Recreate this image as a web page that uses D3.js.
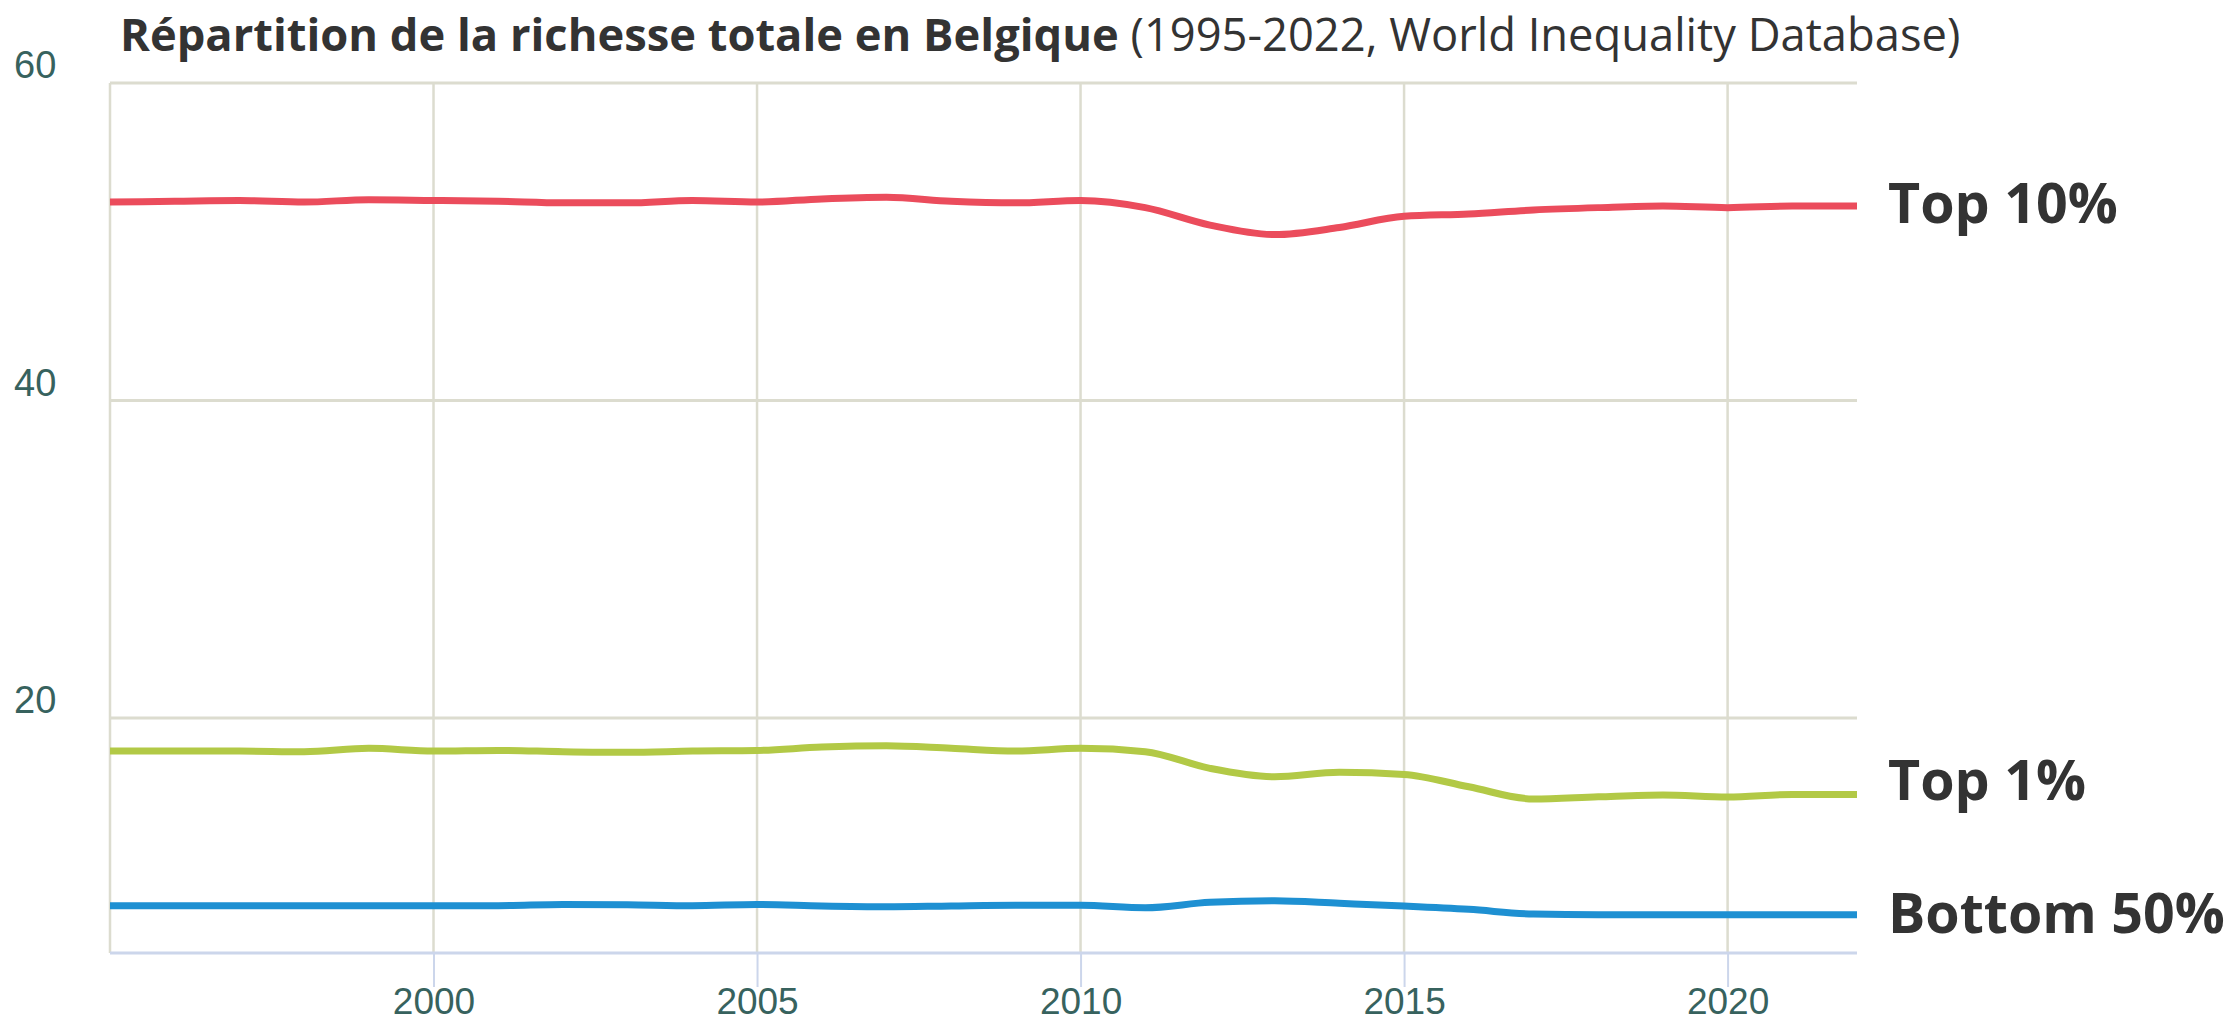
<!DOCTYPE html>
<html>
<head>
<meta charset="utf-8">
<script src="https://cdn.jsdelivr.net/npm/d3@7"></script>
<style>
  body { margin: 0; background: #fff; }
  svg { display: block; }
</style>
</head>
<body>
<div id="chart"></div>
<script>
// data (share of total wealth, %)
const years = d3.range(1995, 2023);
const top10 = [52.5, 52.55, 52.6, 52.5, 52.65, 52.6, 52.55, 52.45, 52.45, 52.6, 52.5, 52.7, 52.8, 52.55,
  52.45, 52.6, 52.15, 51.05, 50.45, 50.9, 51.6, 51.75, 52.0, 52.15, 52.25, 52.15, 52.25, 52.25];
const top1 = [17.92, 17.92, 17.92, 17.88, 18.09, 17.92, 17.96, 17.88, 17.84, 17.92, 17.96, 18.17, 18.25, 18.09,
  17.92, 18.09, 17.88, 16.83, 16.3, 16.58, 16.45, 15.67, 14.9, 15.04, 15.15, 15.02, 15.19, 15.19];
const bottom50 = [8.18, 8.18, 8.18, 8.18, 8.18, 8.18, 8.18, 8.26, 8.24, 8.18, 8.26, 8.16, 8.11, 8.16,
  8.2, 8.2, 8.05, 8.39, 8.49, 8.33, 8.16, 7.95, 7.65, 7.61, 7.61, 7.61, 7.61, 7.61];
const seriesNames = ["Top 10%", "Top 1%", "Bottom 50%"];
const seriesColors = ["#eb4c5c", "#b2c946", "#1e90d2"];
const yTicks = [20, 40, 60];
const xTicks = [2000, 2005, 2010, 2015, 2020];

const W = 2235, H = 1023;
const plot = { left: 110, right: 1857, top: 83, bottom: 953 };

const svg = d3.select('#chart')
  .append('svg')
  .attr('width', W)
  .attr('height', H)
  .style('background-color', '#fff');

const x = d3.scaleLinear()
  .domain([1995, 2022])
  .range([plot.left, plot.right]);

const y = d3.scaleLinear()
  .domain([5.2, 60])
  .range([plot.bottom, plot.top]);

// horizontal grid
svg.append('g')
  .selectAll('line')
  .data(yTicks)
  .join('line')
    .attr('x1', plot.left)
    .attr('x2', plot.right)
    .attr('y1', d => y(d))
    .attr('y2', d => y(d))
    .style('stroke', '#dcdccf')
    .style('stroke-width', 3);

// vertical grid (plus left edge)
svg.append('g')
  .selectAll('line')
  .data([1995].concat(xTicks))
  .join('line')
    .attr('x1', d => x(d))
    .attr('x2', d => x(d))
    .attr('y1', plot.top)
    .attr('y2', plot.bottom)
    .style('stroke', '#dcdccf')
    .style('stroke-width', 2.5);

// x axis
const xAxis = svg.append('g')
  .attr('transform', `translate(0, ${plot.bottom})`)
  .call(d3.axisBottom(x).tickValues(xTicks).tickFormat(d3.format('d')).tickSize(34).tickSizeOuter(0));
xAxis.select('.domain').remove();
xAxis.append('line')
  .attr('x1', plot.left)
  .attr('x2', plot.right)
  .style('stroke', '#ccd6eb')
  .style('stroke-width', 3);
xAxis.selectAll('.tick line')
  .style('stroke', '#ccd6eb')
  .style('stroke-width', 2);
xAxis.selectAll('.tick text')
  .attr('y', 61)
  .attr('dy', 0)
  .style('font-family', '"Liberation Sans", Arial, sans-serif')
  .style('font-size', '37px')
  .style('fill', '#37625e');

// y labels, sitting above their grid lines
svg.append('g')
  .selectAll('text')
  .data(yTicks)
  .join('text')
    .attr('x', 14)
    .attr('y', d => y(d) - 5)
    .style('font-family', '"Liberation Sans", Arial, sans-serif')
    .style('font-size', '38px')
    .style('fill', '#37625e')
    .text(d => d);

// lines
const allSeries = [top10, top1, bottom50];
const line = d3.line()
  .x((d, i) => x(years[i]))
  .y(d => y(d))
  .curve(d3.curveMonotoneX);

svg.append('g')
  .selectAll('path')
  .data(allSeries)
  .join('path')
    .attr('fill', 'none')
    .attr('stroke', (d, i) => seriesColors[i])
    .attr('stroke-width', 7)
    .attr('stroke-linejoin', 'round')
    .attr('d', line);

// end labels
const labelShift = [17, 6, 18];
const labels = svg.append('g')
  .selectAll('text')
  .data(seriesNames)
  .join('text')
    .attr('x', 1888)
    .attr('y', (d, i) => y(allSeries[i][allSeries[i].length - 1]) + labelShift[i])
    .style('font-family', '"Open Sans", sans-serif')
    .style('font-weight', 'bold')
    .style('font-size', '58px')
    .style('fill', '#333')
    .text(d => d);

// fit label size to the width of "Bottom 50%" in the picture
const bw = labels.filter((d, i) => i === 2).node().getComputedTextLength();
labels.style('font-size', (58 * 337 / bw) + 'px');

// title
const title = svg.append('text')
  .attr('x', 120)
  .attr('y', 51)
  .style('font-family', '"Open Sans", sans-serif')
  .style('font-size', '40px')
  .style('fill', '#333');
title.append('tspan')
  .style('font-weight', 'bold')
  .text('Répartition de la richesse totale en Belgique');
title.append('tspan')
  .text(' (1995-2022, World Inequality Database)');

const tw = title.node().getComputedTextLength();
title.style('font-size', (40 * 1841 / tw) + 'px');
</script>
</body>
</html>
